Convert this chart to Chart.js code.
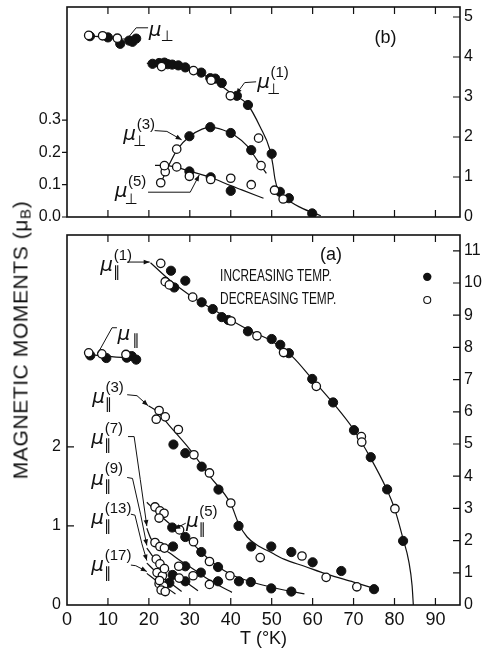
<!DOCTYPE html>
<html><head><meta charset="utf-8">
<script src="https://cdn.jsdelivr.net/npm/chart.js@4.4.0/dist/chart.umd.min.js"></script>
<style>
html,body{margin:0;padding:0;background:#fff;width:484px;height:650px;overflow:hidden;}
#top{position:absolute;left:0;top:0;}
#bot{position:absolute;left:0;top:225px;}
#ytitle{position:absolute;left:21px;top:340px;transform:translate(-50%,-50%) rotate(-90deg);font:21px "Liberation Sans",Arial,sans-serif;letter-spacing:0.6px;white-space:nowrap;color:#111;}
#ytitle sub{font-size:15px;vertical-align:-3px;}
</style></head><body>
<canvas id="top" width="484" height="225"></canvas>
<canvas id="bot" width="484" height="425"></canvas>
<div id="ytitle">MAGNETIC MOMENTS (μ<sub>B</sub>)</div>
<script>
// ---------------- shared temperature axis ----------------
const tempTicks = [0,10,20,30,40,50,60,70,80,90];
const tempRange = [0, 96];
const tempTitle = 'T (°K)';

// ---------------- panel (b): perpendicular components ----------------
const perpLeftTicks  = [0, 0.1, 0.2, 0.3];
const perpRightTicks = [0, 1, 2, 3, 4, 5];
const perpLeftRange  = [0, 0.65];
const perpRightRange = [0, 5.25];

// mu_perp (low T), right axis
const perp0_inc = [[5.6,4.52],[10.0,4.49],[13.0,4.33],[15.2,4.41],[16.0,4.38],[16.9,4.46]];
const perp0_dec = [[5.3,4.54],[8.7,4.53],[12.3,4.47]];
const perp0_fit = [[5.3,4.53],[10,4.49],[13,4.45],[17.2,4.45]];
// mu_perp(1), right axis
const perp1_inc = [[20.9,3.83],[22.5,3.85],[23.8,3.86],[24.6,3.82],[25.7,3.81],[27.2,3.79],[28.9,3.74],[32.8,3.61],[35.0,3.47],[36.2,3.46],[37.8,3.35],[41.5,3.03],[44.2,2.80],[50.0,1.58],[52.0,0.63],[54.2,0.47],[59.9,0.09]];
const perp1_dec = [[23.1,3.76],[30.9,3.66],[35.2,3.42],[39.9,3.03],[50.7,0.67],[52.8,0.45]];
const perp1_fit = [[19.5,3.84],[22,3.85],[25,3.81],[28,3.76],[31,3.66],[34,3.52],[37,3.33],[40,3.1],[44.2,2.8],[47.2,2.25],[49.5,1.7],[50.3,1.3],[50.8,0.95],[51.5,0.7],[53.7,0.45],[57,0.24],[62,0.03]];
// mu_perp(3), left axis
const perp3_inc = [[29.9,0.25],[35.0,0.278],[40.0,0.26],[45.0,0.207]];
const perp3_dec = [[22.9,0.106],[24.0,0.14],[23.8,0.159],[26.8,0.21],[46.8,0.244],[47.4,0.159]];
const perp3_fit = [[22.6,0.095],[24.5,0.15],[27,0.21],[30,0.25],[33,0.272],[35,0.278],[38,0.27],[41,0.252],[44,0.22],[46.5,0.175],[48.7,0.135]];
// mu_perp(5), left axis
const perp5_inc = [[29.9,0.141],[35.1,0.123],[40.0,0.081]];
const perp5_dec = [[26.8,0.155],[29.9,0.126],[35.1,0.116],[40.0,0.12],[45.0,0.10]];
const perp5_fit = [[21.5,0.16],[25,0.158],[30,0.142],[35,0.123],[40,0.097],[42.7,0.084],[48,0.058]];

// ---------------- panel (a): parallel components ----------------
const parLeftTicks  = [0, 1, 2];
const parRightTicks = [0,1,2,3,4,5,6,7,8,9,10,11];
const parLeftRange  = [0, 4.68];
const parRightRange = [0, 11.49];

// mu_par (low T), right axis
const par0_inc = [[5.7,7.75],[9.6,7.67],[14.6,7.68],[15.8,7.73],[16.9,7.62]];
const par0_dec = [[5.3,7.83],[8.5,7.80],[14.4,7.78]];
const par0_fit = [[5.3,7.78],[10,7.72],[17.2,7.65]];
// mu_par(1), right axis
const par1_inc = [[25.4,10.38],[28.9,10.07],[26.2,9.86],[32.9,9.40],[35.6,9.19],[37.8,8.94],[39.4,8.85],[44.2,8.50],[50.0,8.26],[52.1,8.08],[54.2,7.82],[59.9,7.02],[65.0,6.29],[70.1,5.43],[74.2,4.59],[78.2,3.59],[82.1,1.99]];
const par1_dec = [[22.9,10.61],[24.0,10.04],[25.0,9.94],[30.7,9.56],[40.1,8.82],[46.4,8.36],[52.9,7.84],[60.9,6.79],[71.9,5.23],[72.0,5.06],[80.1,2.99]];
const par1_fit = [[20.4,10.63],[25,10.1],[30,9.62],[35,9.23],[40,8.85],[45,8.5],[50,8.2],[55,7.72],[60,7.0],[65,6.27],[70,5.45],[74,4.6],[78,3.62],[80,3.0],[82,2.1],[83.5,1.35],[84.3,0.6],[84.6,0]];
// mu_par(3), left axis
const par3_inc = [[26.0,2.03],[28.9,1.92],[32.9,1.75],[37.0,1.46],[41.9,1.0],[45.0,0.74],[49.9,0.74],[54.8,0.67],[60.0,0.54],[67.0,0.43],[75.0,0.20]];
const par3_dec = [[22.5,2.46],[21.8,2.35],[24.0,2.38],[27.2,2.22],[31.0,1.90],[34.8,1.67],[40.0,1.29],[47.2,0.60],[57.4,0.62],[63.3,0.35],[70.8,0.23]];
const par3_fit = [[19.9,2.52],[22,2.45],[25,2.27],[30,1.97],[35,1.62],[40,1.28],[42,1.02],[44,0.86],[46.4,0.76],[50,0.66],[53,0.58],[58,0.49],[63.5,0.39],[70,0.29],[75.7,0.2]];
// mu_par(5), left axis
const par5_inc = [[25.7,0.98],[28.9,0.86],[32.8,0.67],[36.9,0.48],[42.0,0.30],[44.9,0.29],[49.9,0.21],[54.8,0.17]];
const par5_dec = [[21.5,1.24],[22.7,1.19],[23.7,1.16],[22.5,1.10],[27.5,0.95],[30.9,0.80],[34.8,0.55],[39.8,0.37]];
const par5_fit = [[19.5,1.3],[22,1.17],[25,1.03],[28,0.9],[31,0.76],[34,0.61],[37,0.48],[40,0.39],[44,0.31],[48,0.25],[53,0.19],[58,0.14]];
// mu_par(7), left axis
const par7_inc = [[25.9,0.74],[28.9,0.49],[32.7,0.41],[36.9,0.30]];
const par7_dec = [[21.5,0.79],[22.7,0.74],[23.8,0.72],[27.3,0.49],[30.8,0.37],[34.8,0.26]];
const par7_fit = [[19.5,0.97],[20.5,0.84],[22,0.76],[25,0.66],[28,0.55],[31,0.45],[34,0.34],[37,0.25],[40.3,0.16]];
// mu_par(9), left axis
const par9_inc = [[25.8,0.38],[28.9,0.30]];
const par9_dec = [[21.8,0.58],[22.7,0.52],[23.8,0.46],[27.4,0.34]];
const par9_fit = [[19.5,0.72],[21.5,0.58],[24,0.47],[26,0.39],[29,0.29],[32,0.18]];
// mu_par(13), left axis
const par13_inc = [[25.0,0.28]];
const par13_dec = [[22.0,0.41],[23.3,0.37],[22.6,0.31]];
const par13_fit = [[19.5,0.53],[21.5,0.43],[24,0.33],[28,0.17]];
// mu_par(17), left axis
const par17_dec = [[22.5,0.27],[23.6,0.24],[23.0,0.19],[24.0,0.17]];
const par17_fit = [[19.5,0.40],[21.5,0.32],[24,0.23],[26.5,0.14]];

// ---------------- annotation texts ----------------
const legendLabels = ['INCREASING TEMP.', 'DECREASING TEMP.'];
const panelLetters = ['(b)', '(a)'];
// curve labels: position (T, right-axis value), subscript, superscript, leader polyline
const perpLabels = [
  {x:21.5, y:4.60, sub:'⊥', sup:'',    leader:[[19.8,4.73],[16.9,4.73],[14.9,4.48]], arrow:false},
  {x:48.0, y:3.31, sub:'⊥', sup:'(1)', leader:[[46.2,3.38],[43.4,3.36],[41.3,3.07]], arrow:true},
  {x:15.3, y:2.01, sub:'⊥', sup:'(3)', leader:[[21.4,2.16],[24.4,2.14],[28.0,1.93]], arrow:true},
  {x:13.2, y:0.57, sub:'⊥', sup:'(5)', leader:[[19.8,0.62],[30.1,0.62],[32.3,1.05]], arrow:true}
];
const parLabels = [
  {x:9.7,  y:10.48, sub:'∥', sup:'(1)',  leader:[[14.7,10.65],[20.2,10.65]], arrow:true},
  {x:13.9, y:8.33,  sub:'∥', sup:'',     leader:[[12.2,8.61],[11.0,8.61],[7.6,7.83]], arrow:false},
  {x:7.7,  y:6.38,  sub:'∥', sup:'(3)',  leader:[[14.7,6.53],[17.1,6.50],[19.8,6.19]], arrow:true},
  {x:30.6, y:2.51,  sub:'∥', sup:'(5)',  leader:[[29.0,2.54],[26.2,2.36]], arrow:true},
  {x:7.5,  y:5.11,  sub:'∥', sup:'(7)',  leader:[[14.9,5.23],[16.4,5.23],[17.9,3.9],[19.5,2.45]], arrow:true},
  {x:7.5,  y:3.84,  sub:'∥', sup:'(9)',  leader:[[14.7,3.96],[16.0,3.93],[18.0,2.8],[19.5,1.85]], arrow:true},
  {x:7.5,  y:2.60,  sub:'∥', sup:'(13)', leader:[[15.6,2.82],[16.6,2.79],[18.3,1.9],[19.5,1.38]], arrow:true},
  {x:7.5,  y:1.15,  sub:'∥', sup:'(17)', leader:[[15.6,1.24],[16.8,1.22],[19.5,1.04]], arrow:true}
];

// ---------------- helpers ----------------
const INK = '#111';
const FONT = '"Liberation Sans", Arial, sans-serif';
const pts = a => a.map(p => ({x:p[0], y:p[1]}));
const fitDs = (a, ax) => ({type:'line', data:pts(a), yAxisID:ax, borderColor:INK, borderWidth:1.2, pointRadius:0, cubicInterpolationMode:'monotone', fill:false, order:3});
const incDs = (a, ax) => ({type:'scatter', data:pts(a), yAxisID:ax, pointRadius:4.6, pointBackgroundColor:INK, pointBorderColor:INK, pointBorderWidth:1, order:2});
const decDs = (a, ax) => ({type:'scatter', data:pts(a), yAxisID:ax, pointRadius:4.2, pointBackgroundColor:'#fff', pointBorderColor:INK, pointBorderWidth:1.3, order:1});

function zeroPad(s){ s.paddingLeft=0; s.paddingRight=0; s.paddingTop=0; s.paddingBottom=0; }

function makeScales(c){
  return {
    x: {type:'linear', position:'bottom', min:tempRange[0], max:tempRange[1],
        afterBuildTicks: s => { s.ticks = tempTicks.map(v => ({value:v})); },
        ticks:{display:c.xLabels, font:{family:FONT, size:18}, color:INK, padding:4, maxRotation:0, autoSkip:false},
        grid:{display:false, drawTicks:false}, border:{display:false},
        title:{display:c.xLabels, text:tempTitle, font:{family:FONT, size:18}, color:INK, padding:{top:0,bottom:0}},
        afterFit: s => { s.height = c.xH; zeroPad(s); }},
    y: {type:'linear', position:'left', min:c.lRange[0], max:c.lRange[1],
        afterBuildTicks: s => { s.ticks = c.lTicks.map(v => ({value:v})); },
        ticks:{font:{family:FONT, size:16}, color:INK, padding:c.lPad, callback:c.lFmt},
        grid:{display:false, drawTicks:false}, border:{display:false},
        afterFit: s => { s.width = 67; zeroPad(s); }},
    y2: {type:'linear', position:'right', min:c.rRange[0], max:c.rRange[1],
        afterBuildTicks: s => { s.ticks = c.rTicks.map(v => ({value:v})); },
        ticks:{font:{family:FONT, size:16}, color:INK, padding:4, callback:v => String(v)},
        grid:{display:false, drawTicks:false}, border:{display:false},
        afterFit: s => { s.width = 24; zeroPad(s); }}
  };
}

function drawLabel(ctx, px, py, lab){
  ctx.fillStyle = INK; ctx.textBaseline = 'middle';
  ctx.font = 'italic 20px "DejaVu Sans"'; ctx.textAlign = 'center';
  ctx.fillText('μ', px, py - 2);
  ctx.textAlign = 'left';
  if (lab.sup){ ctx.font = '15px ' + FONT; ctx.fillText(lab.sup, px + 7, py - 12); }
  ctx.font = '15px "DejaVu Sans"'; ctx.textAlign = 'center';
  ctx.fillText(lab.sub, px + (lab.sup ? 10 : 12), py + (lab.sup ? 6 : 4));
}

function narrow(ctx, s, x, y, k){ ctx.save(); ctx.translate(x, y); ctx.scale(k, 1); ctx.fillText(s, 0, 0); ctx.restore(); }

function decoPlugin(spec){
  return {id:'deco', afterDraw(chart){
    const ctx = chart.ctx, a = chart.chartArea, sx = chart.scales.x, sy = chart.scales.y, sy2 = chart.scales.y2;
    const X = v => sx.getPixelForValue(v), Y = v => sy2.getPixelForValue(v);
    ctx.save();
    ctx.strokeStyle = INK; ctx.fillStyle = INK;
    ctx.lineWidth = 1.6;
    ctx.strokeRect(a.left, a.top, a.right - a.left, a.bottom - a.top);
    ctx.lineWidth = 1.2; ctx.beginPath();
    tempTicks.forEach(v => { if (v <= 0) return; const p = X(v);
      ctx.moveTo(p, a.bottom); ctx.lineTo(p, a.bottom - 7); ctx.moveTo(p, a.top); ctx.lineTo(p, a.top + 7); });
    spec.lTicks.forEach(v => { const p = sy.getPixelForValue(v);
      if (spec.leftOut){ ctx.moveTo(a.left - 5, p); ctx.lineTo(a.left, p); }
      else if (v > 0){ ctx.moveTo(a.left, p); ctx.lineTo(a.left + 7, p); } });
    spec.rTicks.forEach(v => { if (v <= 0) return; const p = sy2.getPixelForValue(v);
      ctx.moveTo(a.right - 7, p); ctx.lineTo(a.right, p); });
    ctx.stroke();
    // leaders
    ctx.lineWidth = 1;
    spec.labels.forEach(l => {
      const P = l.leader.map(q => [X(q[0]), Y(q[1])]);
      ctx.beginPath(); ctx.moveTo(P[0][0], P[0][1]);
      for (let i = 1; i < P.length; i++) ctx.lineTo(P[i][0], P[i][1]);
      ctx.stroke();
      if (l.arrow){
        const [x1,y1] = P[P.length-2], [x2,y2] = P[P.length-1];
        const ang = Math.atan2(y2-y1, x2-x1), L = 6, W = 2.4;
        ctx.beginPath(); ctx.moveTo(x2, y2);
        ctx.lineTo(x2 - L*Math.cos(ang) + W*Math.sin(ang), y2 - L*Math.sin(ang) - W*Math.cos(ang));
        ctx.lineTo(x2 - L*Math.cos(ang) - W*Math.sin(ang), y2 - L*Math.sin(ang) + W*Math.cos(ang));
        ctx.closePath(); ctx.fill();
      }
      drawLabel(ctx, X(l.x), Y(l.y), l);
    });
    // panel letter
    ctx.font = '18px ' + FONT; ctx.textAlign = 'center'; ctx.textBaseline = 'middle';
    ctx.fillText(spec.letter[0], X(spec.letter[1]), Y(spec.letter[2]));
    // legend
    if (spec.legend){
      ctx.font = '16px ' + FONT; ctx.textAlign = 'left'; ctx.textBaseline = 'middle';
      const lg = spec.legend;
      narrow(ctx, legendLabels[0], X(lg.x), Y(lg.y[0]), 0.74);
      narrow(ctx, legendLabels[1], X(lg.x), Y(lg.y[1]), 0.74);
      ctx.beginPath(); ctx.arc(X(lg.mx), Y(lg.y[0]), 4.2, 0, 2*Math.PI); ctx.fill();
      ctx.beginPath(); ctx.arc(X(lg.mx), Y(lg.y[1]), 3.5, 0, 2*Math.PI);
      ctx.fillStyle = '#fff'; ctx.fill(); ctx.lineWidth = 1.1; ctx.stroke();
    }
    ctx.restore();
  }};
}

const common = {responsive:false, animation:false, devicePixelRatio:1,
  plugins:{legend:{display:false}, tooltip:{enabled:false}}};

new Chart(document.getElementById('top'), {
  type:'scatter',
  data:{datasets:[
    fitDs(perp0_fit,'y2'), fitDs(perp1_fit,'y2'), fitDs(perp3_fit,'y'), fitDs(perp5_fit,'y'),
    incDs(perp0_inc,'y2'), incDs(perp1_inc,'y2'), incDs(perp3_inc,'y'), incDs(perp5_inc,'y'),
    decDs(perp0_dec,'y2'), decDs(perp1_dec,'y2'), decDs(perp3_dec,'y'), decDs(perp5_dec,'y')
  ]},
  options:Object.assign({}, common, {
    layout:{padding:{top:7, bottom:0, left:0, right:0}},
    scales:makeScales({xLabels:false, xH:8, lRange:perpLeftRange, lTicks:perpLeftTicks, lPad:6, lFmt:v => v.toFixed(1),
                       rRange:perpRightRange, rTicks:perpRightTicks})
  }),
  plugins:[decoPlugin({lTicks:perpLeftTicks, rTicks:perpRightTicks, leftOut:true, labels:perpLabels,
                       letter:[panelLetters[0], 77.8, 4.48]})]
});

new Chart(document.getElementById('bot'), {
  type:'scatter',
  data:{datasets:[
    fitDs(par0_fit,'y2'), fitDs(par1_fit,'y2'), fitDs(par3_fit,'y'), fitDs(par5_fit,'y'),
    fitDs(par7_fit,'y'), fitDs(par9_fit,'y'), fitDs(par13_fit,'y'), fitDs(par17_fit,'y'),
    incDs(par0_inc,'y2'), incDs(par1_inc,'y2'), incDs(par3_inc,'y'), incDs(par5_inc,'y'),
    incDs(par7_inc,'y'), incDs(par9_inc,'y'), incDs(par13_inc,'y'),
    decDs(par0_dec,'y2'), decDs(par1_dec,'y2'), decDs(par3_dec,'y'), decDs(par5_dec,'y'),
    decDs(par7_dec,'y'), decDs(par9_dec,'y'), decDs(par13_dec,'y'), decDs(par17_dec,'y')
  ]},
  options:Object.assign({}, common, {
    layout:{padding:{top:10, bottom:0, left:0, right:0}},
    scales:makeScales({xLabels:true, xH:45, lRange:parLeftRange, lTicks:parLeftTicks, lPad:6, lFmt:v => String(v),
                       rRange:parRightRange, rTicks:parRightTicks})
  }),
  plugins:[decoPlugin({lTicks:parLeftTicks, rTicks:parRightTicks, leftOut:false, labels:parLabels,
                       letter:[panelLetters[1], 64.5, 10.87],
                       legend:{x:37.4, y:[10.19, 9.47], mx:88.0}})]
});
</script>
</body></html>
